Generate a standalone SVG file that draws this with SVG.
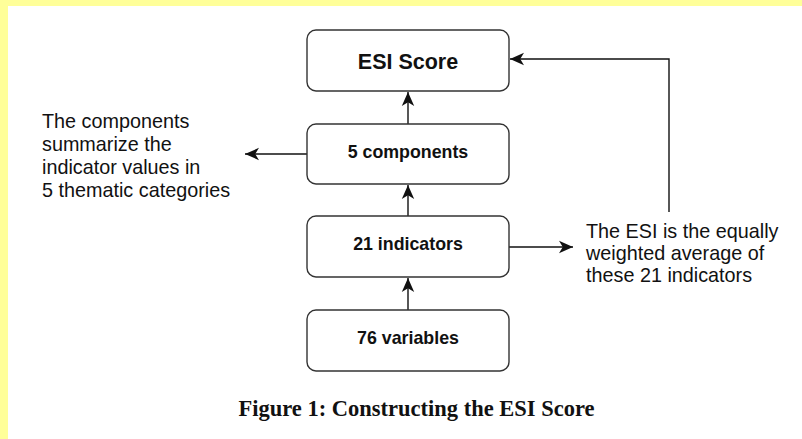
<svg xmlns="http://www.w3.org/2000/svg" width="802" height="439" viewBox="0 0 802 439">
<style>
.box{fill:#fff;stroke:#333;stroke-width:1.4}
.lbl{font-family:"Liberation Sans",Arial,sans-serif;font-weight:bold;fill:#111;text-anchor:middle}
.side{font-family:"Liberation Sans",Arial,sans-serif;font-size:19.8px;fill:#111}
.con{fill:none;stroke:#111;stroke-width:1.4}
.cap{font-family:"Liberation Serif","Times New Roman",serif;font-weight:bold;font-size:22.5px;fill:#111;text-anchor:middle}
</style>
<defs>
<marker id="arr" viewBox="0 0 14 14" refX="14" refY="7" markerWidth="14" markerHeight="14" markerUnits="userSpaceOnUse" orient="auto">
<path d="M0,0.8 L14,7 L0,13.2 L3.8,7 Z" fill="#111"/>
</marker>
</defs>
<rect x="0" y="0" width="802" height="439" fill="#fff"/>
<rect x="0" y="0" width="802" height="6" fill="#ffff99"/>
<rect x="0" y="0" width="8" height="439" fill="#ffff99"/>

<g id="connectors">
<line class="con" x1="408" y1="124" x2="408" y2="92" marker-end="url(#arr)"/>
<line class="con" x1="408" y1="216" x2="408" y2="185" marker-end="url(#arr)"/>
<line class="con" x1="408" y1="310" x2="408" y2="278" marker-end="url(#arr)"/>
<line class="con" x1="307" y1="154" x2="245" y2="154" marker-end="url(#arr)"/>
<line class="con" x1="509" y1="247" x2="573" y2="247" marker-end="url(#arr)"/>
<polyline class="con" points="669,212 669,59 510,59" marker-end="url(#arr)"/>
</g>

<g id="esi-score">
<rect class="box" x="307" y="30" width="202" height="61" rx="9"/>
<text class="lbl" x="408" y="69" font-size="21.5px">ESI Score</text>
</g>
<g id="components">
<rect class="box" x="307" y="124" width="202" height="60" rx="9"/>
<text class="lbl" x="408" y="158" font-size="17.8px">5 components</text>
</g>
<g id="indicators">
<rect class="box" x="307" y="216" width="202" height="61" rx="9"/>
<text class="lbl" x="408" y="249.5" font-size="17.8px">21 indicators</text>
</g>
<g id="variables">
<rect class="box" x="307" y="310" width="202" height="61" rx="9"/>
<text class="lbl" x="408" y="343.5" font-size="17.8px">76 variables</text>
</g>

<g id="components-note">
<text class="side" x="42" y="128">The components</text>
<text class="side" x="42" y="151">summarize the</text>
<text class="side" x="42" y="174">indicator values in</text>
<text class="side" x="42" y="197">5 thematic categories</text>
</g>
<g id="esi-note">
<text class="side" x="586" y="238">The ESI is the equally</text>
<text class="side" x="586" y="260">weighted average of</text>
<text class="side" x="586" y="282">these 21 indicators</text>
</g>

<text class="cap" x="416.5" y="416">Figure 1: Constructing the ESI Score</text>
</svg>
